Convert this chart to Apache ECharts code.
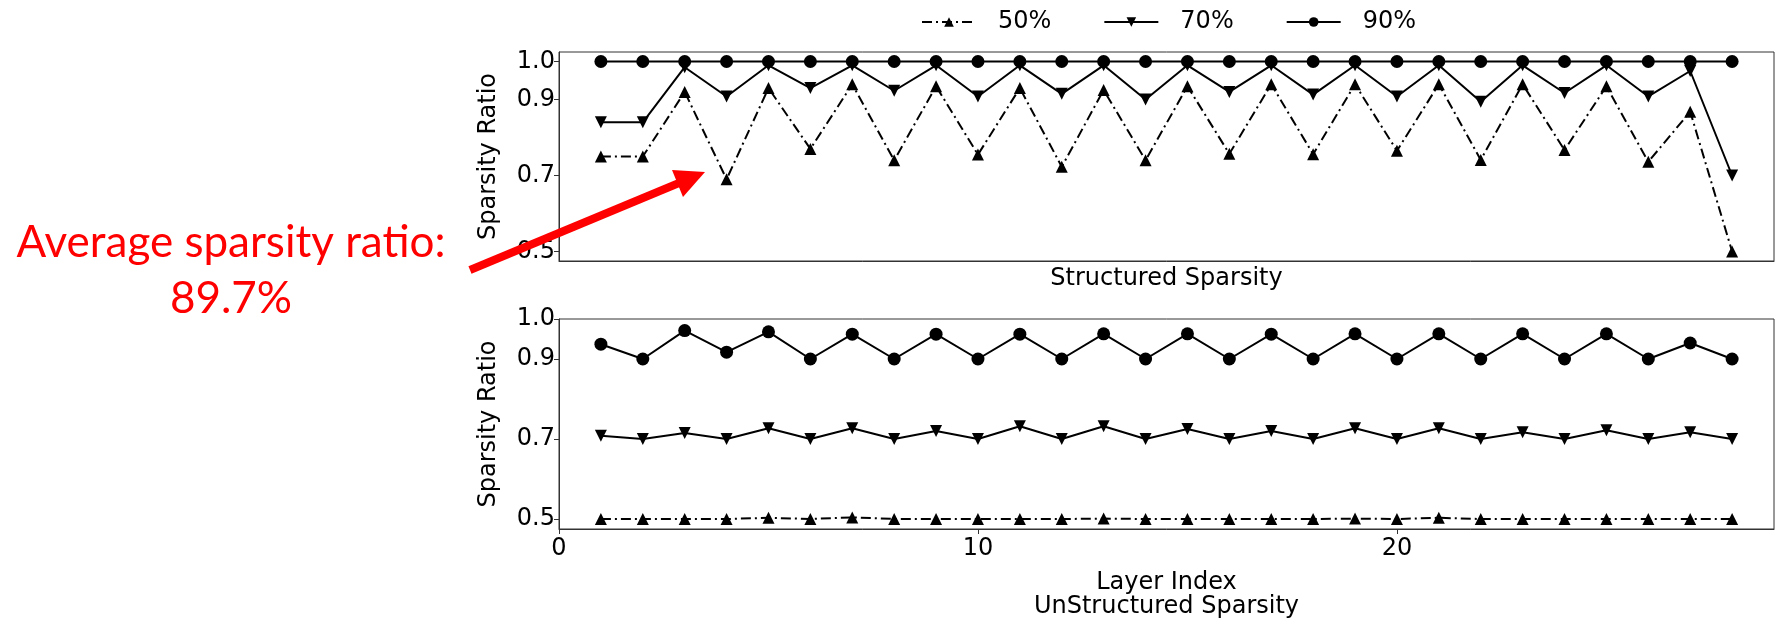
<!DOCTYPE html>
<html>
<head>
<meta charset="utf-8">
<script src="https://cdn.jsdelivr.net/npm/echarts@6/dist/echarts.min.js"></script>
<style>
  html, body { margin: 0; padding: 0; background: #fff; }
  #container { width: 1778px; height: 620px; }
</style>
</head>
<body>
<div id="container"></div>
<script>
// layer index (x)
var layers = [1, 2, 3, 4, 5, 6, 7, 8, 9, 10, 11, 12, 13, 14, 15, 16, 17, 18, 19, 20, 21, 22, 23, 24, 25, 26, 27, 28];

// structured sparsity (top panel)
var struct50 = [0.75, 0.75, 0.92, 0.69, 0.93, 0.77, 0.94, 0.74, 0.935, 0.755, 0.93, 0.723, 0.925, 0.74,
                0.935, 0.757, 0.94, 0.756, 0.94, 0.765, 0.94, 0.741, 0.94, 0.767, 0.935, 0.736, 0.868, 0.50];
var struct70 = [0.84, 0.84, 0.985, 0.908, 0.99, 0.93, 0.99, 0.923, 0.99, 0.908, 0.99, 0.915, 0.99, 0.90,
                0.99, 0.92, 0.99, 0.913, 0.99, 0.908, 0.99, 0.894, 0.99, 0.917, 0.99, 0.908, 0.975, 0.70];
var struct90 = [1.0, 1.0, 1.0, 1.0, 1.0, 1.0, 1.0, 1.0, 1.0, 1.0, 1.0, 1.0, 1.0, 1.0,
                1.0, 1.0, 1.0, 1.0, 1.0, 1.0, 1.0, 1.0, 1.0, 1.0, 1.0, 1.0, 1.0, 1.0];

// unstructured sparsity (bottom panel)
var unstruct50 = [0.50, 0.50, 0.50, 0.50, 0.503, 0.50, 0.504, 0.50, 0.50, 0.50, 0.50, 0.50, 0.501, 0.50,
                  0.50, 0.50, 0.50, 0.50, 0.501, 0.50, 0.503, 0.50, 0.50, 0.50, 0.50, 0.50, 0.50, 0.50];
var unstruct70 = [0.708, 0.70, 0.715, 0.70, 0.727, 0.70, 0.727, 0.70, 0.72, 0.70, 0.732, 0.70, 0.732, 0.70,
                  0.725, 0.70, 0.72, 0.70, 0.727, 0.70, 0.727, 0.70, 0.717, 0.70, 0.722, 0.70, 0.717, 0.70];
var unstruct90 = [0.937, 0.90, 0.971, 0.917, 0.968, 0.90, 0.962, 0.90, 0.962, 0.90, 0.962, 0.90, 0.963, 0.90,
                  0.963, 0.90, 0.962, 0.90, 0.963, 0.90, 0.963, 0.90, 0.963, 0.90, 0.963, 0.90, 0.94, 0.90];

var seriesNames = ['50%', '70%', '90%'];
var yTicks = [0.5, 0.7, 0.9, 1.0];
var xTicks = [0, 10, 20];

var FONT = 'DejaVu Sans';

function pairs(vals) {
    return layers.map(function (x, i) { return [x, vals[i]]; });
}

function lineSeries(name, vals, idx) {
    var s = {
        name: name,
        type: 'line',
        xAxisIndex: idx,
        yAxisIndex: idx,
        data: pairs(vals),
        color: '#000',
        lineStyle: { color: '#000', width: 2 },
        itemStyle: { color: '#000' },
        symbolSize: 12,
        animation: false
    };
    if (name === '50%') {
        s.symbol = 'triangle';
        s.lineStyle.type = [10, 4, 2, 4]; // dash-dot
    } else if (name === '70%') {
        s.symbol = 'triangle';
        s.symbolRotate = 180;
    } else {
        s.symbol = 'circle';
        s.symbolSize = 13;
    }
    return s;
}

function yAxis(idx, max) {
    return {
        type: 'value',
        gridIndex: idx,
        min: 0.475,
        max: max,
        name: 'Sparsity Ratio',
        nameLocation: 'middle',
        nameGap: 58,
        nameTextStyle: { fontFamily: FONT, fontSize: 24, color: '#000' },
        axisLine: { show: true, lineStyle: { color: '#333', width: 1 } },
        axisTick: { show: true, length: 5, customValues: yTicks, lineStyle: { color: '#333' } },
        axisLabel: {
            customValues: yTicks,
            formatter: function (v) { return v.toFixed(1); },
            fontFamily: FONT, fontSize: 24, color: '#000', margin: 4
        },
        splitLine: { show: false }
    };
}

var myChart = echarts.init(document.getElementById('container'));

var option = {
    backgroundColor: '#fff',
    legend: {
        data: seriesNames,
        left: 916,
        top: 5,
        itemWidth: 54,
        itemHeight: 12,
        itemGap: 52,
        textStyle: { fontFamily: FONT, fontSize: 24, color: '#000', padding: [0, 0, 0, 17] }
    },
    grid: [
        { left: 559, right: 4, top: 52, height: 209, show: true, borderColor: '#333', borderWidth: 1 },
        { left: 559, right: 4, top: 319, height: 210, show: true, borderColor: '#333', borderWidth: 1 }
    ],
    xAxis: [
        {
            type: 'value', gridIndex: 0, min: 0, max: 29,
            name: 'Structured Sparsity',
            nameLocation: 'middle',
            nameGap: 6,
            nameTextStyle: { fontFamily: FONT, fontSize: 24, color: '#000', verticalAlign: 'top' },
            axisLine: { show: true, lineStyle: { color: '#333' } },
            axisTick: { show: false },
            axisLabel: { show: false },
            splitLine: { show: false }
        },
        {
            type: 'value', gridIndex: 1, min: 0, max: 29,
            name: 'Layer Index\nUnStructured Sparsity',
            nameLocation: 'middle',
            nameGap: 42,
            nameTextStyle: { fontFamily: FONT, fontSize: 24, color: '#000', lineHeight: 24, verticalAlign: 'top' },
            axisLine: { show: true, lineStyle: { color: '#333' } },
            axisTick: { show: true, length: 5, customValues: xTicks, lineStyle: { color: '#333' } },
            axisLabel: { customValues: xTicks, fontFamily: FONT, fontSize: 24, color: '#000', margin: 8 },
            splitLine: { show: false }
        }
    ],
    yAxis: [yAxis(0, 1.025), yAxis(1, 1.0)],
    series: [
        lineSeries('50%', struct50, 0),
        lineSeries('70%', struct70, 0),
        lineSeries('90%', struct90, 0),
        lineSeries('50%', unstruct50, 1),
        lineSeries('70%', unstruct70, 1),
        lineSeries('90%', unstruct90, 1)
    ],
    graphic: [
        // red annotation
        {
            type: 'text',
            style: { text: 'Average sparsity ratio:', x: 231, y: 243, textAlign: 'center', textVerticalAlign: 'middle',
                     fontFamily: 'Lato', fontSize: 44, fill: '#ff0000' }
        },
        {
            type: 'text',
            style: { text: '89.7%', x: 231, y: 299, textAlign: 'center', textVerticalAlign: 'middle',
                     fontFamily: 'Lato', fontSize: 44, fill: '#ff0000' }
        },
        {
            type: 'line', z: 100,
            shape: { x1: 470, y1: 270, x2: 679, y2: 183 },
            style: { stroke: '#ff0000', lineWidth: 8 }
        },
        {
            type: 'polygon', z: 100,
            shape: { points: [[705, 172], [683, 197], [672, 170]] },
            style: { fill: '#ff0000' }
        }
    ]
};

myChart.setOption(option);
</script>
</body>
</html>
